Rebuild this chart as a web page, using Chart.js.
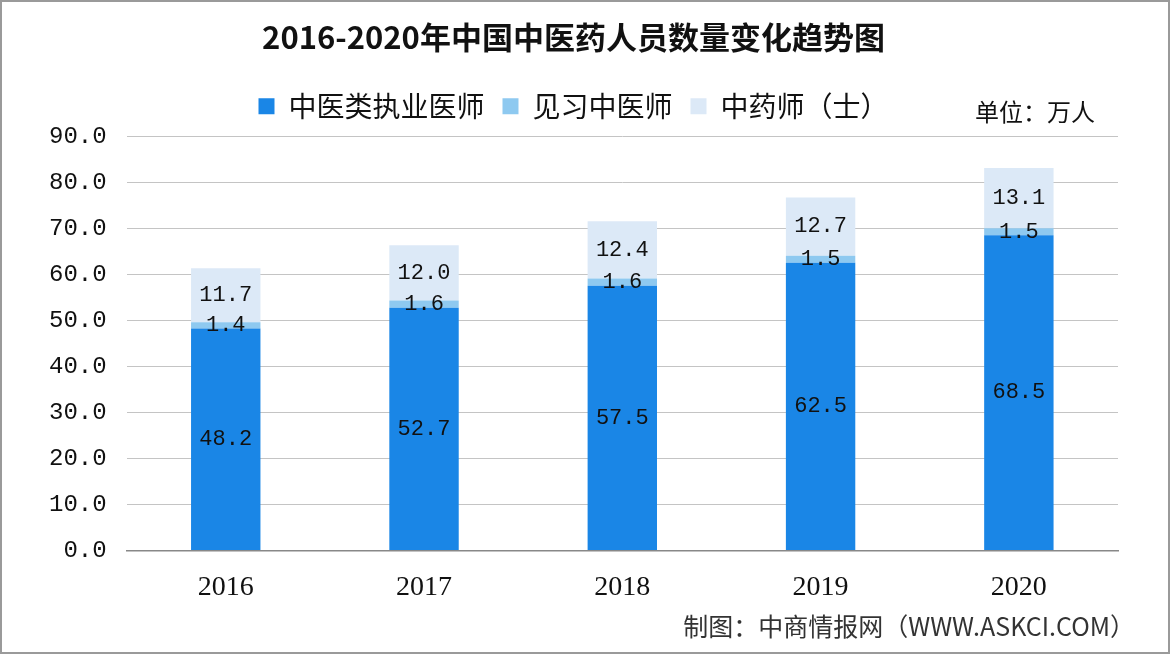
<!DOCTYPE html>
<html>
<head>
<meta charset="utf-8">
<script src="https://cdn.jsdelivr.net/npm/chart.js@4.4.0/dist/chart.umd.min.js"></script>
<style>
  html, body { margin: 0; padding: 0; background: #fff; }
  #wrap { width: 1166px; height: 650px; border: 2px solid #9a9a9a; position: relative; }
</style>
</head>
<body>
<div id="wrap"><canvas id="grafica" width="1166" height="650"></canvas></div>
<script>
// Datos
const anios = ['2016', '2017', '2018', '2019', '2020'];
const medicos = [48.2, 52.7, 57.5, 62.5, 68.5];
const asistentes = [1.4, 1.6, 1.6, 1.5, 1.5];
const farmaceuticos = [11.7, 12.0, 12.4, 12.7, 13.1];
const nombres = ['中医类执业医师', '见习中医师', '中药师（士）'];
const colores = ['#1a86e6', '#8ec9f0', '#dce9f7'];

const fuenteCJK = '"Noto Sans CJK SC", "Noto Sans", sans-serif';
const fuenteNum = '"Liberation Mono", "DejaVu Sans Mono", monospace';

// Etiquetas de datos y textos extra
const pluginEtiquetas = {
  id: 'etiquetas',
  afterInit(chart) {
    // un poco mas de espacio bajo la leyenda
    const leyenda = chart.legend;
    if (leyenda) {
      const fitOrig = leyenda.fit;
      leyenda.fit = function () { fitOrig.call(this); this.height += 6; };
    }
  },
  afterDatasetsDraw(chart) {
    const ctx = chart.ctx;
    ctx.save();
    ctx.fillStyle = '#111';
    ctx.font = '22px ' + fuenteNum;
    ctx.textAlign = 'center';
    ctx.textBaseline = 'middle';
    chart.data.datasets.forEach((ds, i) => {
      chart.getDatasetMeta(i).data.forEach((bar, j) => {
        const p = bar.getProps(['x', 'y', 'base'], true);
        ctx.fillText(ds.data[j].toFixed(1), p.x, (p.y + p.base) / 2);
      });
    });
    ctx.restore();
  },
  afterDraw(chart) {
    const ctx = chart.ctx;
    ctx.save();
    ctx.fillStyle = '#111';
    ctx.font = '24px ' + fuenteCJK;
    ctx.textAlign = 'right';
    ctx.textBaseline = 'middle';
    ctx.fillText('单位：万人', 1093, 110);
    ctx.fillStyle = '#333';
    ctx.font = '25px ' + fuenteCJK;
    ctx.fillText('制图：中商情报网（WWW.ASKCI.COM）', 1133, 624);
    ctx.restore();
  }
};

new Chart(document.getElementById('grafica'), {
  type: 'bar',
  data: {
    labels: anios,
    datasets: [
      { label: nombres[0], data: medicos, backgroundColor: colores[0] },
      { label: nombres[1], data: asistentes, backgroundColor: colores[1] },
      { label: nombres[2], data: farmaceuticos, backgroundColor: colores[2] }
    ]
  },
  options: {
    responsive: false,
    animation: false,
    layout: { padding: { left: 27, right: 50, top: 8, bottom: 36 } },
    datasets: { bar: { categoryPercentage: 1, barPercentage: 0.35 } },
    scales: {
      x: {
        stacked: true,
        grid: { display: false },
        border: { color: '#888', width: 1.5 },
        ticks: { color: '#111', font: { family: '"Liberation Serif", serif', size: 28 }, padding: 12 }
      },
      y: {
        stacked: true,
        min: 0, max: 90,
        ticks: {
          stepSize: 10,
          color: '#111',
          padding: 20,
          font: { family: fuenteNum, size: 24 },
          callback: v => v.toFixed(1)
        },
        grid: { color: '#c4c4c4', drawTicks: false },
        border: { display: false }
      }
    },
    plugins: {
      title: {
        display: true,
        text: '2016-2020年中国中医药人员数量变化趋势图',
        color: '#111',
        font: { family: fuenteCJK, size: 31, weight: 'bold' },
        padding: { top: 9, bottom: 18 }
      },
      legend: {
        position: 'top',
        labels: {
          color: '#111',
          boxWidth: 16,
          boxHeight: 16,
          padding: 18,
          font: { family: fuenteCJK, size: 28 }
        }
      },
      tooltip: { enabled: false }
    }
  },
  plugins: [pluginEtiquetas]
});
</script>
</body>
</html>
